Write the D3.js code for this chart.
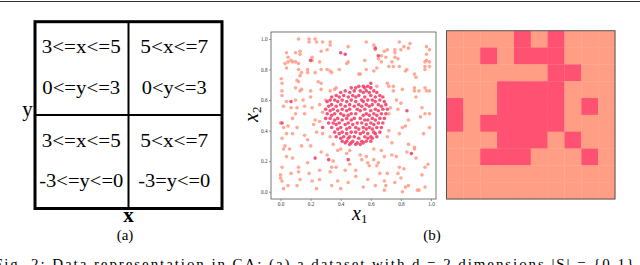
<!DOCTYPE html>
<html><head><meta charset="utf-8">
<script src="https://cdn.jsdelivr.net/npm/d3@7"></script>
<style>html,body{margin:0;padding:0;background:#fff;overflow:hidden}</style>
</head><body>
<svg id="c" width="640" height="265"></svg>
<script>
// ---------- data ----------
const regionCells = [
  {row:0, col:0, line1:"3<=x<=5", line2:"0<=y<=3"},
  {row:0, col:1, line1:"5<x<=7",  line2:"0<y<=3"},
  {row:1, col:0, line1:"3<=x<=5", line2:"-3<=y<=0"},
  {row:1, col:1, line1:"5<x<=7",  line2:"-3=y<=0"}
];
const axisTicks = [0.0, 0.2, 0.4, 0.6, 0.8, 1.0];
const lightPts = [
[0.12,1.0],[0.19,1.0],[0.19,0.98],[0.23,1.0],[0.24,0.98],[0.28,0.98],[0.33,0.98],[0.33,0.96],[0.31,0.93],[0.27,0.92],[0.57,0.98],[0.62,0.96],[0.63,0.93],[0.79,0.98],[0.86,0.97],[0.85,0.94],[0.97,0.95],[0.99,0.93],[0.04,0.91],[0.05,0.88],[0.10,0.91],[0.13,0.92],[0.13,0.90],[0.45,0.95],[0.45,0.85],[0.76,0.93],[0.76,0.91],[0.80,0.93],[0.82,0.95],[0.71,0.93],[0.69,0.92],
[0.03,0.84],[0.05,0.85],[0.07,0.86],[0.08,0.85],[0.10,0.85],[0.12,0.84],[0.12,0.80],[0.13,0.76],[0.14,0.78],[0.21,0.88],[0.21,0.86],[0.23,0.78],[0.18,0.80],[0.18,0.78],[0.26,0.85],[0.27,0.80],[0.31,0.80],[0.33,0.79],[0.34,0.78],[0.39,0.80],[0.44,0.84],[0.52,0.77],[0.56,0.86],[0.57,0.80],[0.62,0.79],[0.64,0.81],[0.65,0.87],[0.67,0.85],[0.67,0.89],[0.70,0.88],[0.74,0.85],[0.76,0.88],[0.78,0.87],[0.72,0.82],[0.75,0.82],[0.79,0.82],[0.83,0.79],[0.84,0.80],[0.89,0.77],[0.90,0.75],[0.96,0.82],[0.97,0.90],[0.97,0.86],[0.96,0.85],[0.99,0.82],[0.99,0.85],[0.96,0.80],[0.04,0.81],
[0.005,0.74],[0.01,0.71],[0.01,0.66],[0.01,0.63],[0.04,0.59],[0.02,0.56],[0.10,0.68],[0.11,0.73],[0.12,0.72],[0.13,0.66],[0.14,0.67],[0.15,0.60],[0.20,0.66],[0.25,0.72],[0.27,0.71],[0.27,0.67],[0.33,0.66],[0.36,0.67],[0.37,0.68],[0.53,0.77],[0.60,0.68],[0.64,0.69],[0.71,0.71],[0.72,0.69],[0.75,0.69],[0.75,0.66],[0.81,0.67],[0.89,0.68],[0.89,0.66],[0.92,0.66],[0.96,0.68],[0.97,0.66],[0.99,0.66],[0.90,0.62],[0.10,0.60],
[0.07,0.55],[0.11,0.55],[0.10,0.51],[0.08,0.48],[0.16,0.56],[0.16,0.51],[0.21,0.55],[0.23,0.47],[0.26,0.57],[0.30,0.60],[0.73,0.55],[0.72,0.51],[0.78,0.54],[0.85,0.47],[0.83,0.43],[0.94,0.55],[0.96,0.51],[0.99,0.51],[0.93,0.49],[0.00,0.45],[0.77,0.60],[0.80,0.58],
[0.02,0.42],[0.04,0.38],[0.05,0.43],[0.08,0.38],[0.11,0.42],[0.01,0.35],[0.03,0.30],[0.06,0.28],[0.16,0.37],[0.22,0.44],[0.24,0.39],[0.28,0.38],[0.33,0.36],[0.38,0.27],[0.40,0.28],[0.46,0.27],[0.71,0.36],[0.72,0.40],[0.79,0.38],[0.81,0.42],[0.85,0.31],[0.89,0.29],[0.95,0.38],[0.99,0.42],[0.74,0.32],
[0.02,0.28],[0.04,0.23],[0.08,0.22],[0.07,0.12],[0.01,0.16],[0.00,0.11],[0.12,0.16],[0.12,0.13],[0.18,0.19],[0.19,0.12],[0.27,0.26],[0.31,0.24],[0.35,0.20],[0.34,0.16],[0.33,0.13],[0.37,0.16],[0.44,0.25],[0.46,0.18],[0.53,0.24],[0.54,0.21],[0.57,0.23],[0.58,0.19],[0.59,0.17],[0.62,0.21],[0.64,0.17],[0.65,0.19],[0.69,0.23],[0.71,0.12],[0.77,0.23],[0.79,0.16],[0.78,0.12],[0.82,0.15],[0.84,0.26],[0.89,0.28],[0.90,0.22],[0.94,0.11],[0.96,0.16],[0.98,0.18],[0.50,0.14],[0.43,0.14],[0.66,0.12],[0.26,0.14],
[0.00,0.09],[0.01,0.07],[0.05,0.04],[0.02,0.02],[0.11,0.04],[0.13,0.08],[0.21,0.07],[0.24,0.02],[0.26,0.08],[0.34,0.04],[0.38,0.07],[0.40,0.02],[0.50,0.10],[0.58,0.08],[0.63,0.04],[0.69,0.07],[0.70,0.04],[0.69,0.01],[0.76,0.06],[0.80,0.09],[0.81,0.00],[0.83,0.03],[0.85,0.04],[0.91,0.01],[0.92,0.01],[0.96,0.03],[0.45,0.06],[0.55,0.03],
[0.20,0.62],[0.28,0.52],[0.26,0.46],[0.20,0.30],[0.18,0.34],[0.14,0.30],[0.67,0.27],[0.74,0.24],[0.62,0.28],[0.35,0.31]
];
const darkOutliers = [
[0.23,0.22],[0.32,0.21],[0.45,0.21],[0.87,0.25],[0.07,0.59],[0.01,0.45],[0.84,0.53],[0.20,0.86],[0.40,0.91],[0.43,0.90],[0.63,0.94],[0.65,0.89],[0.60,0.71]
];
const darkCluster = [
[0.52,0.69],[0.55,0.69],[0.58,0.69],
[0.47,0.68],[0.50,0.68],[0.56,0.68],[0.60,0.68],
[0.43,0.66],[0.49,0.66],[0.53,0.66],[0.57,0.66],[0.62,0.66],
[0.40,0.65],[0.46,0.65],[0.55,0.65],[0.59,0.65],[0.64,0.65],
[0.37,0.63],[0.42,0.63],[0.48,0.63],[0.52,0.63],[0.60,0.63],[0.66,0.63],
[0.34,0.62],[0.39,0.62],[0.45,0.62],[0.50,0.62],[0.56,0.62],[0.63,0.62],[0.68,0.62],
[0.33,0.60],[0.36,0.60],[0.41,0.60],[0.47,0.60],[0.54,0.60],[0.58,0.60],[0.61,0.60],[0.66,0.60],
[0.31,0.59],[0.38,0.59],[0.44,0.59],[0.50,0.59],[0.55,0.59],[0.63,0.59],[0.69,0.59],
[0.34,0.57],[0.40,0.57],[0.46,0.57],[0.52,0.57],[0.57,0.57],[0.61,0.57],[0.65,0.57],[0.70,0.57],
[0.32,0.56],[0.37,0.56],[0.43,0.56],[0.49,0.56],[0.54,0.56],[0.59,0.56],[0.67,0.56],
[0.30,0.54],[0.35,0.54],[0.41,0.54],[0.46,0.54],[0.51,0.54],[0.56,0.54],[0.63,0.54],[0.68,0.54],[0.71,0.54],
[0.33,0.53],[0.38,0.53],[0.44,0.53],[0.53,0.53],[0.60,0.53],[0.65,0.53],
[0.31,0.51],[0.36,0.51],[0.40,0.51],[0.47,0.51],[0.50,0.51],[0.57,0.51],[0.62,0.51],[0.67,0.51],[0.70,0.51],
[0.34,0.50],[0.42,0.50],[0.45,0.50],[0.55,0.50],[0.59,0.50],[0.64,0.50],
[0.30,0.48],[0.33,0.48],[0.38,0.48],[0.44,0.48],[0.49,0.48],[0.53,0.48],[0.61,0.48],[0.66,0.48],[0.69,0.48],
[0.36,0.47],[0.41,0.47],[0.47,0.47],[0.56,0.47],[0.58,0.47],[0.63,0.47],
[0.32,0.45],[0.35,0.45],[0.39,0.45],[0.45,0.45],[0.51,0.45],[0.54,0.45],[0.60,0.45],[0.65,0.45],[0.68,0.45],
[0.37,0.44],[0.43,0.44],[0.48,0.44],[0.57,0.44],[0.62,0.44],
[0.28,0.42],[0.34,0.42],[0.40,0.42],[0.46,0.42],[0.50,0.42],[0.55,0.42],[0.59,0.42],[0.64,0.42],[0.67,0.42],
[0.38,0.41],[0.44,0.41],[0.52,0.41],[0.57,0.41],[0.61,0.41],
[0.36,0.39],[0.41,0.39],[0.47,0.39],[0.50,0.39],[0.55,0.39],[0.62,0.39],[0.66,0.39],
[0.39,0.38],[0.44,0.38],[0.53,0.38],[0.58,0.38],[0.63,0.38],
[0.37,0.36],[0.42,0.36],[0.46,0.36],[0.49,0.36],[0.56,0.36],[0.60,0.36],[0.64,0.36],
[0.40,0.35],[0.45,0.35],[0.52,0.35],[0.58,0.35],[0.61,0.35],
[0.41,0.33],[0.44,0.33],[0.48,0.33],[0.54,0.33],[0.57,0.33],[0.60,0.33],
[0.43,0.32],[0.47,0.32],[0.51,0.32],[0.55,0.32],
[0.46,0.31],[0.50,0.31],[0.53,0.31]
];
const gridRows = [
"0000101000",
"0010111000",
"0000001100",
"0001111000",
"1001111010",
"1011111000",
"0001110100",
"0011100010",
"0000000000",
"0000000000"
];
const panelLabels = ["(a)", "(b)"];
const captionText = "Fig. 2: Data representation in CA: (a) a dataset with d = 2 dimensions |S| = {0,1}";

// ---------- drawing ----------
const svg = d3.select("#c");
const serif = "'Liberation Serif','DejaVu Serif',serif";

// top rule
svg.append("line").attr("x1",0).attr("x2",640).attr("y1",1.5).attr("y2",1.5)
  .attr("stroke","#333").attr("stroke-width",1.2);

// ---- panel (a)
const aX = d3.scaleBand().domain([0,1]).range([35,222]);
const aY = d3.scaleBand().domain([0,1]).range([21.7,208.5]);
const gA = svg.append("g");
gA.append("line").attr("x1",aX(1)).attr("x2",aX(1)).attr("y1",aY(0)).attr("y2",aY(1)+aY.bandwidth())
  .attr("stroke","#000").attr("stroke-width",2);
gA.append("line").attr("x1",aX(0)).attr("x2",aX(1)+aX.bandwidth()).attr("y1",aY(1)).attr("y2",aY(1))
  .attr("stroke","#000").attr("stroke-width",2);
gA.append("rect").attr("x",aX(0)).attr("y",aY(0)).attr("width",aX.bandwidth()*2).attr("height",aY.bandwidth()*2)
  .attr("fill","none").attr("stroke","#000").attr("stroke-width",3);
regionCells.forEach(c=>{
  const cx = aX(c.col)+aX.bandwidth()/2 + (c.col===0?-0.5:-1);
  const y0 = aY(c.row);
  gA.append("text").attr("x",cx).attr("y",y0+(c.row===0?31:31.5)).attr("text-anchor","middle")
    .attr("font-family",serif).attr("font-size",19).text(c.line1)
    .attr("textLength", c.col===0?79:68).attr("lengthAdjust","spacingAndGlyphs");
  gA.append("text").attr("x",cx).attr("y",y0+(c.row===0?72:71.5)).attr("text-anchor","middle")
    .attr("font-family",serif).attr("font-size",19).text(c.line2)
    .attr("textLength", c.col===0?(c.row===0?78:84):(c.row===0?65:72)).attr("lengthAdjust","spacingAndGlyphs");
});
gA.append("text").attr("x",27.5).attr("y",116).attr("text-anchor","middle")
  .attr("font-family",serif).attr("font-size",21).text("y");
gA.append("text").attr("x",128.5).attr("y",222).attr("text-anchor","middle")
  .attr("font-family",serif).attr("font-size",21).attr("font-weight","bold").text("x");

// ---- panel (b) scatter
const sx = d3.scaleLinear().domain([0,1]).range([280.5,431]);
const sy = d3.scaleLinear().domain([0,1]).range([191.7,39]);
const gB = svg.append("g");
gB.append("rect").attr("x",271).attr("y",32).attr("width",165).attr("height",167)
  .attr("fill","#fff").attr("stroke","#555").attr("stroke-width",0.8);
const xAxis = d3.axisBottom(sx).tickValues(axisTicks).tickFormat(d3.format(".1f")).tickSize(2).tickPadding(1.5);
const yAxis = d3.axisLeft(sy).tickValues(axisTicks).tickFormat(d3.format(".1f")).tickSize(2).tickPadding(1.5);
const gx = gB.append("g").attr("transform","translate(0,199)").call(xAxis);
const gy = gB.append("g").attr("transform","translate(271,0)").call(yAxis);
[gx,gy].forEach(g=>{
  g.select(".domain").remove();
  g.selectAll("line").attr("stroke","#555").attr("stroke-width",0.6);
  g.selectAll("text").attr("font-family",serif).attr("font-size",5.2).attr("fill","#333");
});
gB.selectAll("circle.l").data(lightPts).enter().append("circle").attr("class","l")
  .attr("cx",d=>sx(d[0])).attr("cy",d=>sy(d[1])).attr("r",1.8)
  .attr("fill","#ff9a82").attr("fill-opacity",0.85);
gB.selectAll("circle.d").data(darkCluster.concat(darkOutliers)).enter().append("circle").attr("class","d")
  .attr("cx",d=>sx(d[0])).attr("cy",d=>sy(d[1])).attr("r",1.8)
  .attr("fill","#f4426a").attr("fill-opacity",0.9);
// axis labels (math italic)
const xl = gB.append("text").attr("x",352).attr("y",220).attr("font-family",serif)
  .attr("font-style","italic").attr("font-size",20);
xl.append("tspan").text("x");
xl.append("tspan").attr("font-size",13).attr("dy",3).attr("font-style","normal").text("1");
const yl = gB.append("text").attr("transform","translate(258,122) rotate(-90)").attr("font-family",serif)
  .attr("font-style","italic").attr("font-size",20);
yl.append("tspan").text("x");
yl.append("tspan").attr("font-size",13).attr("dy",3).attr("font-style","normal").text("2");

// ---- heatmap
const hx = d3.scaleBand().domain(d3.range(10)).range([446.5,615]);
const hy = d3.scaleBand().domain(d3.range(10)).range([30.7,199]);
const cells = [];
gridRows.forEach((r,i)=>r.split("").forEach((v,j)=>cells.push({i,j,v:+v})));
const gH = svg.append("g");
gH.selectAll("rect.c").data(cells).enter().append("rect").attr("class","c")
  .attr("x",d=>hx(d.j)).attr("y",d=>hy(d.i)).attr("width",hx.bandwidth()+0.3).attr("height",hy.bandwidth()+0.3)
  .attr("fill",d=>d.v?"#ff5272":"#ff9d85");
gH.append("rect").attr("x",446.5).attr("y",30.7).attr("width",168.5).attr("height",168.3)
  .attr("fill","none").attr("stroke","#555").attr("stroke-width",1);

// ---- panel labels
svg.append("text").attr("x",125).attr("y",240).attr("text-anchor","middle")
  .attr("font-family",serif).attr("font-size",15).text(panelLabels[0]);
svg.append("text").attr("x",432).attr("y",240).attr("text-anchor","middle")
  .attr("font-family",serif).attr("font-size",15).text(panelLabels[1]);

// ---- caption (cut off at the bottom)
svg.append("text").attr("x",-6).attr("y",269).attr("font-family",serif).attr("font-size",15)
  .attr("textLength",640).attr("lengthAdjust","spacing").text(captionText);
</script>
</body></html>
